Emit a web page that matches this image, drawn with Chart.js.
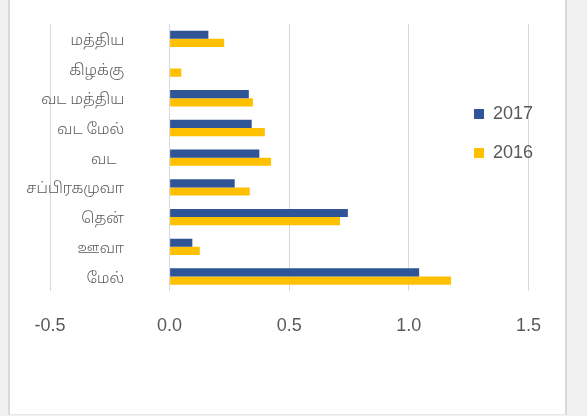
<!DOCTYPE html>
<html>
<head>
<meta charset="utf-8">
<script src="https://cdn.jsdelivr.net/npm/chart.js@4"></script>
<style>
  html, body { margin: 0; padding: 0; }
  body { width: 587px; height: 416px; background: #f0f0f0; position: relative; overflow: hidden; }
  #panel {
    position: absolute; left: 8px; top: 0; width: 555px; height: 414px;
    background: #fff;
    border-left: 2px solid #d9d9d9; border-right: 2px solid #d9d9d9; border-bottom: 1px solid #e8e8e8;
  }
  canvas { display: block; }
  #warm { position: absolute; left: 0; top: 0; opacity: 0; font: 300 15px 'Noto Sans Tamil'; white-space: nowrap; pointer-events: none; }
</style>
</head>
<body>
<div id="panel"><canvas id="chart" width="555" height="414"></canvas></div>
<div id="warm"></div>
<script>
// categories, top to bottom as in the picture
const regions = ['மத்திய', 'கிழக்கு', 'வட மத்திய', 'வட மேல்', 'வட  ', 'சப்பிரகமுவா', 'தென்', 'ஊவா', 'மேல்']
const values2017 = [0.162, 0, 0.331, 0.343, 0.375, 0.272, 0.745, 0.095, 1.043]
const values2016 = [0.228, 0.049, 0.348, 0.398, 0.424, 0.335, 0.712, 0.126, 1.176]
const xTicks = [-0.5, 0.0, 0.5, 1.0, 1.5]

const grey = '#595959'
const labelFont = 'Noto Sans Tamil'

// put the tamil text in the page once so the font is loaded for the canvas too
document.getElementById('warm').textContent = regions.join(' ')

// legend sits inside the plot like the excel one, so move it after layout
const legendPlacer = {
  id: 'legendPlacer',
  afterLayout(chart) {
    const lg = chart.legend
    lg.left = 443
    lg.top = 84
    lg.right = lg.left + lg.width
    lg.bottom = lg.top + lg.height
  }
}

const chart = new Chart(document.getElementById('chart'), {
  type: 'bar',
  data: {
    labels: regions,
    datasets: [{
      label: '2017',
      data: values2017,
      backgroundColor: '#2f5597',
      borderWidth: 0
    }, {
      label: '2016',
      data: values2016,
      backgroundColor: '#ffc000',
      borderWidth: 0
    }]
  },
  options: {
    indexAxis: 'y',
    responsive: false,
    animation: false,
    categoryPercentage: 0.55,
    barPercentage: 1.0,
    layout: { padding: { left: 40, right: 36, top: 24, bottom: 53 } },
    scales: {
      x: {
        min: xTicks[0],
        max: xTicks[xTicks.length - 1],
        afterBuildTicks: (s) => { s.ticks = xTicks.map(v => ({ value: v })) },
        grid: { color: '#d9d9d9', drawTicks: false },
        border: { display: false },
        ticks: {
          padding: 24,
          color: grey,
          font: { family: 'Liberation Sans', size: 18 },
          callback: (v) => Number(v).toFixed(1)
        }
      },
      y: {
        // category labels hang between -0.5 and 0 like in excel
        position: { x: -0.19 },
        grid: { display: false },
        border: { display: false },
        ticks: {
          labelOffset: 3,
          color: grey,
          font: { family: labelFont, size: 15, weight: '300' }
        }
      }
    },
    plugins: {
      legend: {
        position: 'chartArea',
        align: 'start',
        labels: {
          boxWidth: 10,
          boxHeight: 10,
          padding: 21,
          color: grey,
          font: { family: 'Liberation Sans', size: 18 }
        }
      },
      tooltip: { enabled: false }
    }
  },
  plugins: [legendPlacer]
})

// redraw once the fonts are in
document.fonts.load('300 15px "Noto Sans Tamil"', regions.join('')).then(() => {
  chart.update('none')
  setTimeout(() => chart.update('none'), 150)
})
</script>
</body>
</html>
